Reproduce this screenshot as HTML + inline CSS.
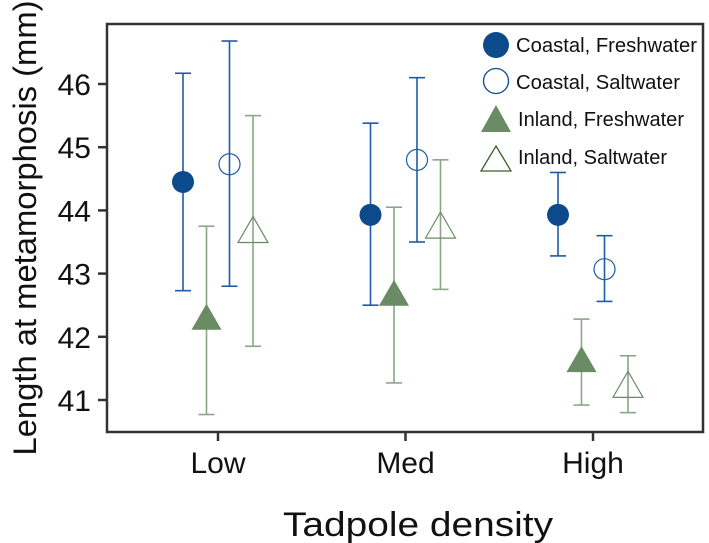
<!DOCTYPE html>
<html><head><meta charset="utf-8"><style>
html,body{margin:0;padding:0;background:#fff;}
svg{display:block;font-family:"Liberation Sans",Arial,sans-serif;}
</style></head><body>
<svg id="chart" width="709" height="543">
<rect x="107" y="24" width="596" height="408" fill="none" stroke="#333" stroke-width="2.5"/>
<g id="axes"></g>
<g id="marks"></g>
<text x="0" y="0" transform="translate(36,228) rotate(-90)" text-anchor="middle" font-size="32" fill="#111" textLength="455" lengthAdjust="spacingAndGlyphs">Length at metamorphosis (mm)</text>
<text x="418" y="536" text-anchor="middle" font-size="34" fill="#111" textLength="270" lengthAdjust="spacingAndGlyphs">Tadpole density</text>
<g>
<circle cx="496" cy="45" r="13" fill="#0d4a8c"/>
<text x="516" y="52" font-size="20" fill="#111" textLength="181" lengthAdjust="spacingAndGlyphs">Coastal, Freshwater</text>
<circle cx="496" cy="81" r="12.5" fill="none" stroke="#0d4a8c" stroke-width="1.3"/>
<text x="516" y="89" font-size="20" fill="#111" textLength="164" lengthAdjust="spacingAndGlyphs">Coastal, Saltwater</text>
<polygon points="496,105 511,132 481,132" fill="#6a8c64"/>
<text x="518" y="126" font-size="20" fill="#111" textLength="166" lengthAdjust="spacingAndGlyphs">Inland, Freshwater</text>
<polygon points="496,146 511,171 481,171" fill="none" stroke="#3d5e2a" stroke-width="1.3"/>
<text x="518" y="164" font-size="20" fill="#111" textLength="149" lengthAdjust="spacingAndGlyphs">Inland, Saltwater</text>
</g>
</svg>
<script>
const categories = ["Low","Med","High"];
const yTicks = [41,42,43,44,45,46];
const seriesNames = ["Coastal, Freshwater","Inland, Freshwater","Coastal, Saltwater","Inland, Saltwater"];
const coastalFreshMean = [44.45, 43.93, 43.93];
const coastalFreshLow  = [42.73, 42.50, 43.28];
const coastalFreshHigh = [46.17, 45.38, 44.60];
const inlandFreshMean = [42.27, 42.65, 41.60];
const inlandFreshLow  = [40.77, 41.27, 40.92];
const inlandFreshHigh = [43.75, 44.05, 42.28];
const coastalSaltMean = [44.73, 44.80, 43.07];
const coastalSaltLow  = [42.80, 43.50, 42.56];
const coastalSaltHigh = [46.68, 46.10, 43.60];
const inlandSaltMean = [43.65, 43.72, 41.20];
const inlandSaltLow  = [41.85, 42.75, 40.80];
const inlandSaltHigh = [45.50, 44.80, 41.70];

const NS="http://www.w3.org/2000/svg";
function yS(v){return 84+(46-v)*63.2;}
function xS(i){return 218+i*187.5;}
function mk(tag,attrs,parent){const e=document.createElementNS(NS,tag);for(const k in attrs)e.setAttribute(k,attrs[k]);parent.appendChild(e);return e;}
const axes=document.getElementById('axes'), marks=document.getElementById('marks');
yTicks.forEach(t=>{
  const y=yS(t);
  const l=mk('line',{x1:98,x2:107,y1:y,y2:y,stroke:'#333','stroke-width':2.5},axes);
  
  
  const tx=mk('text',{x:91,y:y+11,'text-anchor':'end','font-size':30,fill:'#111'},axes);
  tx.textContent=t;
  
  
});
categories.forEach((c,i)=>{
  const x=xS(i);
  const l=mk('line',{x1:x,x2:x,y1:432,y2:441,stroke:'#333','stroke-width':2.5},axes);
  
  
  const tx=mk('text',{x:x,y:473,'text-anchor':'middle','font-size':30,fill:'#111'},axes);
  tx.textContent=c;
  
  
});
const series=[
 {mean:coastalFreshMean,lo:coastalFreshLow,hi:coastalFreshHigh,off:-35,col:'#1f5aa6',shape:'circle',fill:'#0d4a8c',stroke:'none',name:'coastal-fresh'},
 {mean:inlandFreshMean,lo:inlandFreshLow,hi:inlandFreshHigh,off:-11.5,col:'#8aa686',shape:'tri',fill:'#6a8c64',stroke:'none',name:'inland-fresh'},
 {mean:coastalSaltMean,lo:coastalSaltLow,hi:coastalSaltHigh,off:11.5,col:'#1f5aa6',shape:'circle',fill:'#fff',stroke:'#1f5aa6',name:'coastal-salt'},
 {mean:inlandSaltMean,lo:inlandSaltLow,hi:inlandSaltHigh,off:35,col:'#8aa686',shape:'tri',fill:'none',stroke:'#6a8c64',name:'inland-salt'}
];
series.forEach(s=>{
  s.mean.forEach((m,i)=>{
    const x=xS(i)+s.off, yl=yS(s.lo[i]), yh=yS(s.hi[i]), y=yS(m);
    const g=mk('g',{},marks);
    
    
    mk('line',{x1:x,x2:x,y1:yl,y2:yh,stroke:s.col,'stroke-width':1.6},g);
    mk('line',{x1:x-8,x2:x+8,y1:yl,y2:yl,stroke:s.col,'stroke-width':1.6},g);
    mk('line',{x1:x-8,x2:x+8,y1:yh,y2:yh,stroke:s.col,'stroke-width':1.6},g);
    let p;
    if(s.shape==='circle'){
      p=mk('circle',{cx:x,cy:y,r:s.fill==='#fff'?10.5:11,fill:s.fill==='#fff'?'none':s.fill,stroke:s.stroke,'stroke-width':1.2},marks);
    } else {
      p=mk('polygon',{points:`${x},${y-16} ${x+15},${y+10} ${x-15},${y+10}`,fill:s.fill,stroke:s.stroke,'stroke-width':1.2},marks);
    }
    
    
  });
});
</script>
</body></html>
